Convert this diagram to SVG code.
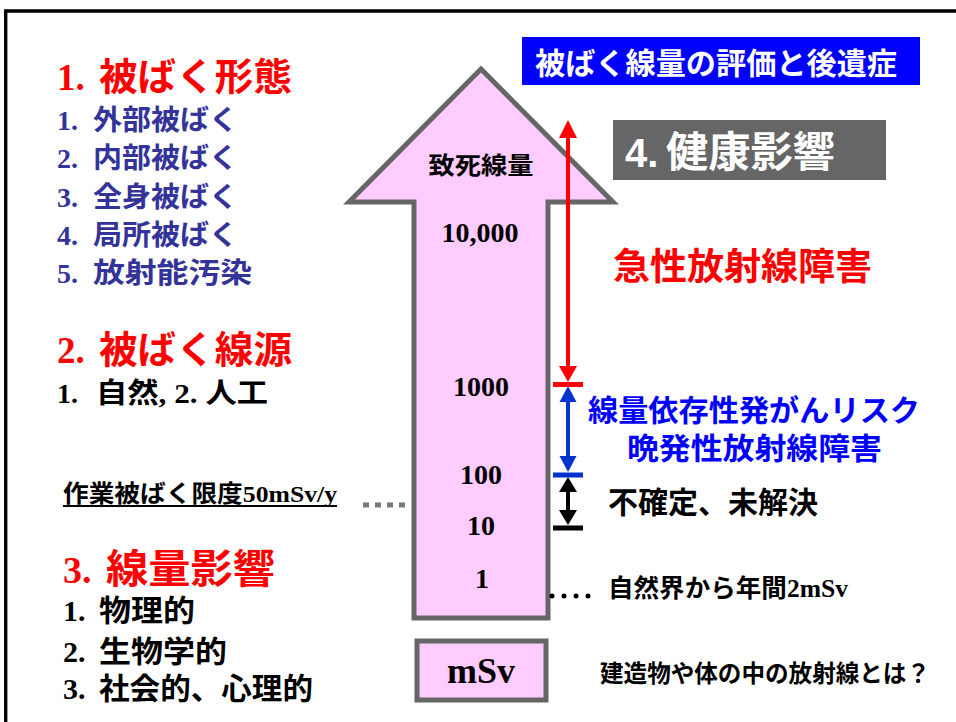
<svg xmlns="http://www.w3.org/2000/svg" width="956" height="722" viewBox="0 0 956 722">
<style>
.mix{font-family:"Liberation Serif","Noto Sans CJK JP",serif;font-weight:bold}
.jp{font-family:"Noto Sans CJK JP",sans-serif;font-weight:bold}
.sans{font-family:"Liberation Sans","Noto Sans CJK JP",sans-serif;font-weight:bold}
.red{fill:#FF0000}
.navy{fill:#333399}
.blk{fill:#000000}
.wht{fill:#FFFFFF}
.blu{fill:#0000FF}
.num{font-family:"Liberation Serif",serif;font-weight:bold;text-anchor:middle;fill:#000}
.pink{fill:#FFCCFF;stroke:#666666;stroke-width:5}
</style>
<rect width="956" height="722" fill="#FFFFFF"/>
<path d="M5.7,722 V11 H956" fill="none" stroke="#000" stroke-width="3.4"/>

<g id="section1">
<text class="mix red" x="57" y="90" font-size="37">1.</text>
<text class="jp red" x="99" y="90" font-size="38" textLength="193" lengthAdjust="spacingAndGlyphs">被ばく形態</text>
<text class="mix navy" x="57" y="130" font-size="28">1.</text>
<text class="jp navy" x="93" y="130" font-size="28" textLength="145" lengthAdjust="spacingAndGlyphs">外部被ばく</text>
<text class="mix navy" x="57" y="168" font-size="28">2.</text>
<text class="jp navy" x="93" y="168" font-size="28" textLength="145" lengthAdjust="spacingAndGlyphs">内部被ばく</text>
<text class="mix navy" x="57" y="207" font-size="28">3.</text>
<text class="jp navy" x="93" y="207" font-size="28" textLength="145" lengthAdjust="spacingAndGlyphs">全身被ばく</text>
<text class="mix navy" x="57" y="245" font-size="28">4.</text>
<text class="jp navy" x="93" y="245" font-size="28" textLength="145" lengthAdjust="spacingAndGlyphs">局所被ばく</text>
<text class="mix navy" x="57" y="283" font-size="28">5.</text>
<text class="jp navy" x="93" y="283" font-size="28" textLength="159" lengthAdjust="spacingAndGlyphs">放射能汚染</text>
</g>

<g id="section2">
<text class="mix red" x="57" y="363" font-size="37">2.</text>
<text class="jp red" x="99" y="363" font-size="38" textLength="193" lengthAdjust="spacingAndGlyphs">被ばく線源</text>
<text class="mix blk" x="57" y="403" font-size="28">1.</text>
<text class="mix blk" x="96" y="403" font-size="28" textLength="172" lengthAdjust="spacingAndGlyphs">自然, 2. 人工</text>
</g>

<g id="limit">
<text class="mix blk" x="63" y="502" font-size="24" textLength="274" lengthAdjust="spacingAndGlyphs">作業被ばく限度50mSv/y</text>
<line x1="63" y1="506" x2="337" y2="506" stroke="#000" stroke-width="2"/>
</g>

<g id="section3">
<text class="mix red" x="63" y="583" font-size="38">3.</text>
<text class="jp red" x="106" y="583" font-size="40" textLength="169" lengthAdjust="spacingAndGlyphs">線量影響</text>
<text class="mix blk" x="63" y="621" font-size="30">1.</text>
<text class="jp blk" x="99" y="621" font-size="30" textLength="96" lengthAdjust="spacingAndGlyphs">物理的</text>
<text class="mix blk" x="63" y="662" font-size="30">2.</text>
<text class="jp blk" x="99" y="662" font-size="30" textLength="128" lengthAdjust="spacingAndGlyphs">生物学的</text>
<text class="mix blk" x="63" y="699" font-size="30">3.</text>
<text class="jp blk" x="99" y="699" font-size="30" textLength="214" lengthAdjust="spacingAndGlyphs">社会的、心理的</text>
</g>

<g id="dose-arrow">
<polygon class="pink" points="481,69 613,202 548,202 548,618 414,618 414,202 349,202" stroke-linejoin="miter"/>
<text class="jp blk" x="481" y="174" font-size="24" text-anchor="middle" textLength="105" lengthAdjust="spacingAndGlyphs">致死線量</text>
<text class="num" x="480" y="242" font-size="28">10,000</text>
<text class="num" x="481" y="396" font-size="28">1000</text>
<text class="num" x="481" y="484" font-size="28">100</text>
<text class="num" x="481" y="535" font-size="28">10</text>
<text class="num" x="482" y="588" font-size="28">1</text>
</g>

<g id="unit">
<rect class="pink" x="417" y="641" width="129" height="59"/>
<text class="num" x="481" y="683" font-size="36">mSv</text>
</g>

<g id="title">
<rect x="522" y="37" width="398" height="48" fill="#0000FF"/>
<text class="jp wht" x="535" y="74" font-size="30" textLength="362" lengthAdjust="spacingAndGlyphs">被ばく線量の評価と後遺症</text>
</g>

<g id="section4">
<rect x="613" y="120" width="273" height="60" fill="#666666"/>
<text class="sans wht" x="625" y="167" font-size="40">4.</text>
<text class="jp wht" x="666" y="167" font-size="42" textLength="169" lengthAdjust="spacingAndGlyphs">健康影響</text>
</g>

<g id="acute">
<text class="jp red" x="613" y="280" font-size="37" textLength="259" lengthAdjust="spacingAndGlyphs">急性放射線障害</text>
</g>
<g id="late">
<text class="jp blu" x="588" y="421" font-size="30" textLength="332" lengthAdjust="spacingAndGlyphs">線量依存性発がんリスク</text>
<text class="jp blu" x="627" y="459" font-size="30" textLength="255" lengthAdjust="spacingAndGlyphs">晩発性放射線障害</text>
</g>
<g id="uncertain">
<text class="jp blk" x="608" y="513" font-size="30" textLength="210" lengthAdjust="spacingAndGlyphs">不確定、未解決</text>
</g>
<g id="natural">
<text class="mix blk" x="608" y="597" font-size="25" textLength="240" lengthAdjust="spacingAndGlyphs">自然界から年間2mSv</text>
</g>
<g id="question">
<text class="jp blk" x="600" y="682" font-size="24" textLength="330" lengthAdjust="spacingAndGlyphs">建造物や体の中の放射線とは？</text>
</g>

<g id="connectors">
<line x1="568" y1="136" x2="568" y2="368" stroke="#FF0000" stroke-width="4"/>
<polygon points="568,120 577,138 559,138" fill="#FF0000"/>
<polygon points="568,382 577,366 559,366" fill="#FF0000"/>
<line x1="553" y1="384.5" x2="583" y2="384.5" stroke="#FF0000" stroke-width="5"/>

<line x1="568" y1="400" x2="568" y2="458" stroke="#0033CC" stroke-width="4"/>
<polygon points="568,386 576.5,402 559.5,402" fill="#0033CC"/>
<polygon points="568,472 576.5,456 559.5,456" fill="#0033CC"/>
<line x1="553" y1="475" x2="583" y2="475" stroke="#0033CC" stroke-width="5"/>

<line x1="568" y1="490" x2="568" y2="512" stroke="#000" stroke-width="4"/>
<polygon points="568,477 577,492 559,492" fill="#000"/>
<polygon points="568,525 577,510 559,510" fill="#000"/>
<line x1="553" y1="528" x2="583" y2="528" stroke="#000" stroke-width="5"/>

<line x1="363" y1="505" x2="405" y2="505" stroke="#777777" stroke-width="5" stroke-dasharray="6 6"/>
<circle cx="552" cy="596" r="2.5" fill="#000"/>
<circle cx="564" cy="596" r="2.5" fill="#000"/>
<circle cx="576" cy="596" r="2.5" fill="#000"/>
<circle cx="588" cy="596" r="2.5" fill="#000"/>
</g>
</svg>
